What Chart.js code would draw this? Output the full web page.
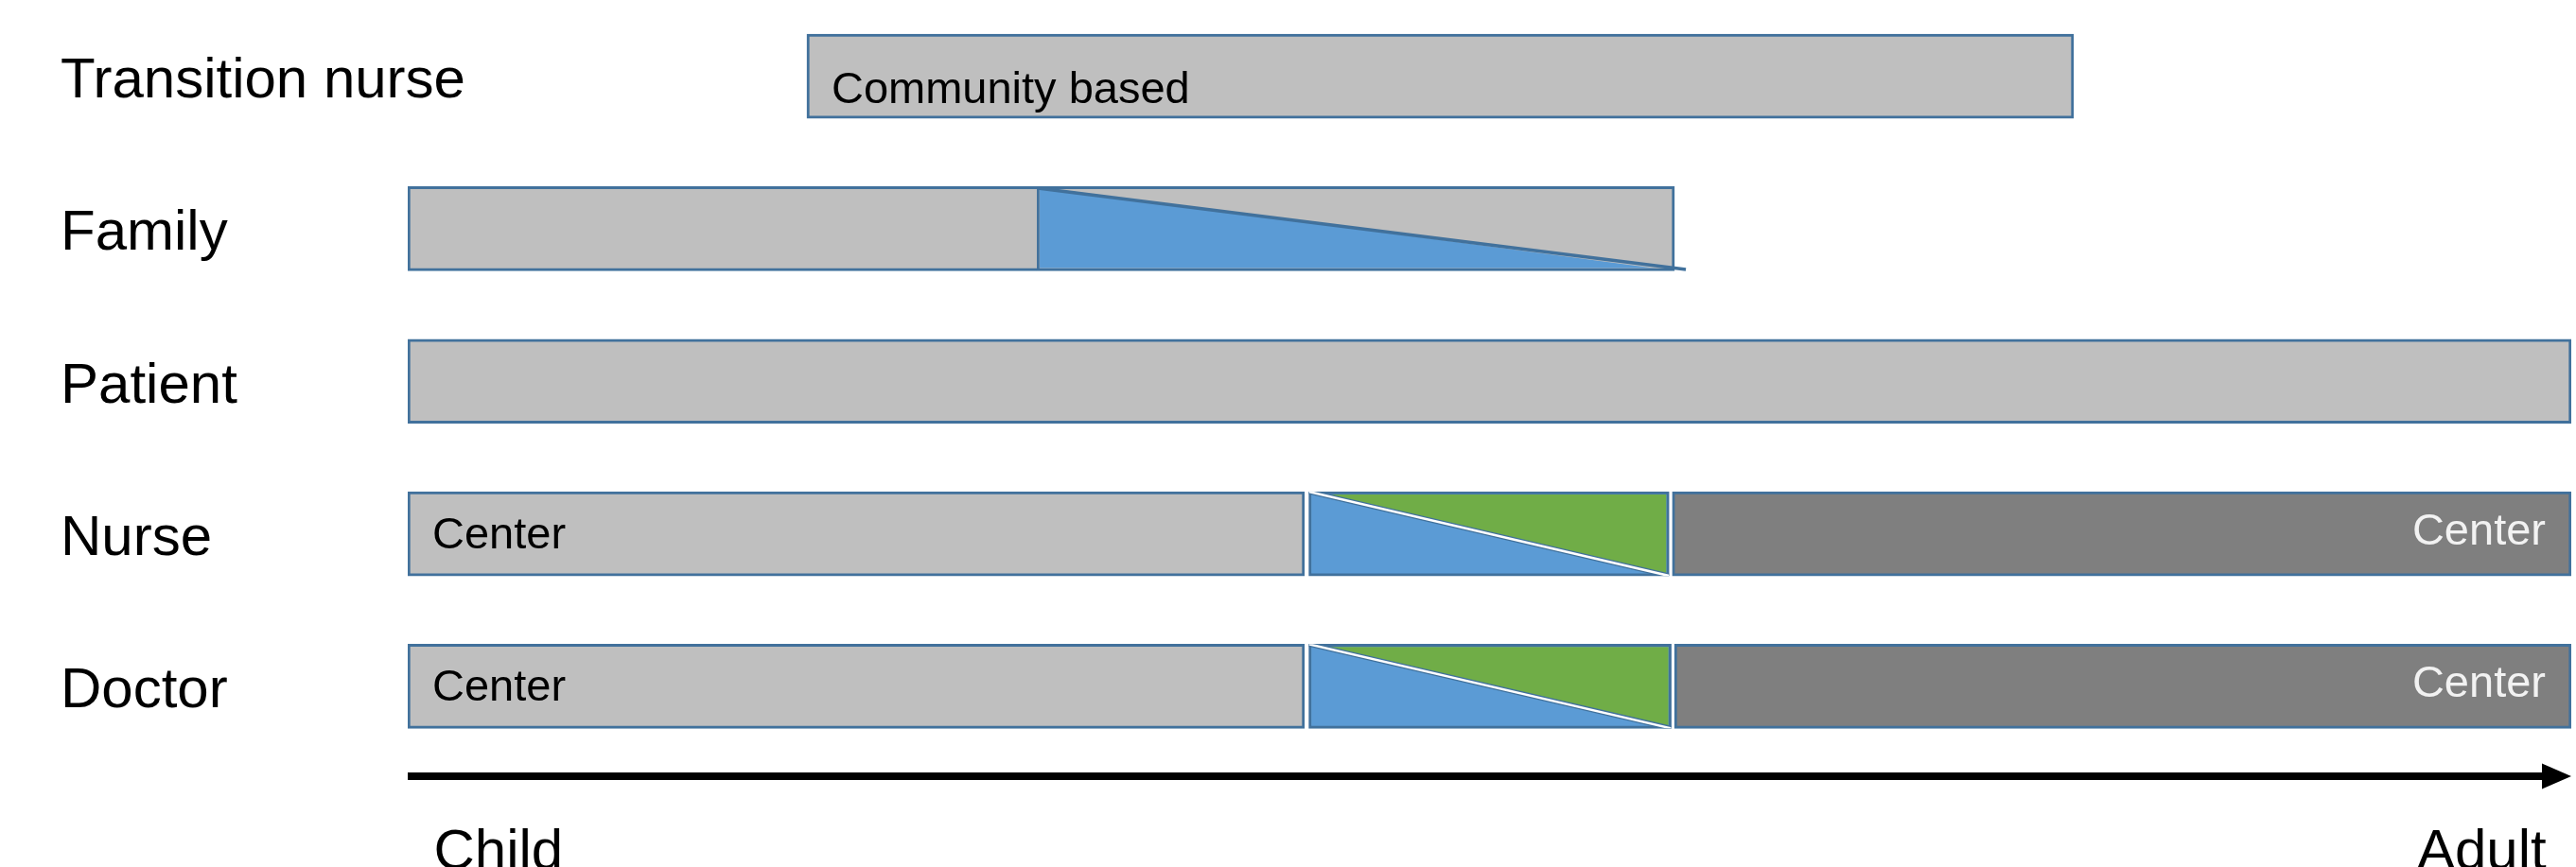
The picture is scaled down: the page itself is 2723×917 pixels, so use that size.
<!DOCTYPE html>
<html>
<head>
<meta charset="utf-8">
<title>Transition of care</title>
<script src="https://cdn.jsdelivr.net/npm/chart.js@4.4.1/dist/chart.umd.min.js"></script>
<style>
  html, body { margin: 0; padding: 0; background: #fff; }
  canvas { display: block; }
</style>
</head>
<body>
<canvas id="chart" width="2723" height="917"></canvas>
<script>
// 行（自上而下）
const roles = ['Transition nurse', 'Family', 'Patient', 'Nurse', 'Doctor'];

// 时间轴：0 = 儿童, 100 = 成人
const childCare = [[18.45, 77.0], [0, 29.08], [0, 100], [0, 41.45], [0, 41.45]];
const handover = [null, [29.08, 58.55], null, [41.65, 58.3], [41.65, 58.4]];
const adultCare = [null, null, null, [58.45, 100], [58.55, 100]];

// 条内文字
const childText = ['Community based', '', '', 'Center', 'Center'];
const adultText = ['', '', '', 'Center', 'Center'];

// 底部轴
const axisTicks = [1.2, 98.85];
const axisLabels = ['Child', 'Adult'];

const FONT = "'Liberation Sans', Arial, sans-serif";
const GREY = '#BFBFBF';
const DARK = '#7F7F7F';
const BLUE = '#5B9BD5';
const GREEN = '#70AD47';
const EDGE = '#41719C';
const BORDER = 3;

Chart.defaults.font.family = FONT;

function barBox(bar) {
    const { x, y, base, height } = bar.getProps(['x', 'y', 'base', 'height'], true);
    return {
        left: Math.min(x, base),
        right: Math.max(x, base),
        top: y - height / 2,
        bottom: y + height / 2,
        y: y
    };
}

// 交接三角形、条内文字和箭头
const overlayPlugin = {
    id: 'overlay',
    afterDatasetsDraw(chart) {
        const ctx = chart.ctx;

        chart.getDatasetMeta(1).data.forEach((bar, i) => {
            if (!handover[i]) return;
            const r = barBox(bar);
            const toAdult = !!adultCare[i];

            ctx.save();
            ctx.beginPath();
            ctx.rect(r.left + BORDER, r.top + BORDER, r.right - r.left - 2 * BORDER, r.bottom - r.top - 2 * BORDER);
            ctx.clip();
            ctx.beginPath();
            if (toAdult) {
                ctx.moveTo(r.left, r.top);
                ctx.lineTo(r.right, r.top);
                ctx.lineTo(r.right, r.bottom);
                ctx.fillStyle = GREEN;
            } else {
                ctx.moveTo(r.left, r.top);
                ctx.lineTo(r.left, r.bottom);
                ctx.lineTo(r.right, r.bottom);
                ctx.fillStyle = BLUE;
            }
            ctx.closePath();
            ctx.fill();
            ctx.restore();

            ctx.save();
            ctx.lineCap = 'butt';
            if (toAdult) {
                ctx.beginPath();
                ctx.rect(r.left, r.top, r.right - r.left, r.bottom - r.top);
                ctx.clip();
                ctx.beginPath();
                ctx.moveTo(r.left, r.top);
                ctx.lineTo(r.right, r.bottom);
                ctx.strokeStyle = EDGE;
                ctx.lineWidth = 5;
                ctx.stroke();
                ctx.strokeStyle = '#FFFFFF';
                ctx.lineWidth = 2.5;
                ctx.stroke();
            } else {
                ctx.beginPath();
                ctx.moveTo(r.left + 1, r.top + 1.5);
                ctx.lineTo(r.right + 12, r.bottom - 1.5);
                ctx.strokeStyle = EDGE;
                ctx.lineWidth = 3.5;
                ctx.stroke();
            }
            ctx.restore();
        });

        ctx.save();
        ctx.font = '47px ' + FONT;
        ctx.textBaseline = 'alphabetic';
        chart.getDatasetMeta(0).data.forEach((bar, i) => {
            if (!childText[i]) return;
            const r = barBox(bar);
            ctx.fillStyle = '#000000';
            ctx.textAlign = 'left';
            ctx.fillText(childText[i], r.left + 26, r.y + (i === 0 ? 28 : 15));
        });
        chart.getDatasetMeta(2).data.forEach((bar, i) => {
            if (!adultText[i]) return;
            const r = barBox(bar);
            ctx.fillStyle = '#F2F2F2';
            ctx.textAlign = 'right';
            ctx.fillText(adultText[i], r.right - 27, r.y + 11);
        });
        ctx.restore();
    },
    afterDraw(chart) {
        const ctx = chart.ctx;
        const area = chart.chartArea;
        const y = chart.scales.x.top + 14.5;
        ctx.save();
        ctx.fillStyle = '#000000';
        ctx.fillRect(area.left, y - 4, area.right - area.left - 28, 8);
        ctx.beginPath();
        ctx.moveTo(area.right, y);
        ctx.lineTo(area.right - 31, y - 13.5);
        ctx.lineTo(area.right - 31, y + 13.5);
        ctx.closePath();
        ctx.fill();
        ctx.restore();
    }
};

const common = {
    borderColor: EDGE,
    borderWidth: BORDER,
    borderSkipped: false,
    grouped: false,
    barThickness: 89
};

new Chart(document.getElementById('chart'), {
    type: 'bar',
    data: {
        labels: roles,
        datasets: [
            {
                ...common,
                label: 'Child care',
                data: childCare,
                backgroundColor: GREY,
                // 与交接段相连时去掉右边框
                borderSkipped: c => (handover[c.dataIndex] && handover[c.dataIndex][0] === childCare[c.dataIndex][1]) ? 'right' : false
            },
            {
                ...common,
                label: 'Handover',
                data: handover,
                backgroundColor: c => adultCare[c.dataIndex] ? BLUE : GREY
            },
            {
                ...common,
                label: 'Adult care',
                data: adultCare,
                backgroundColor: DARK
            }
        ]
    },
    options: {
        indexAxis: 'y',
        responsive: false,
        animation: false,
        layout: { padding: { left: 64, right: 5, top: 0, bottom: 0 } },
        plugins: {
            legend: { display: false },
            tooltip: { enabled: false }
        },
        scales: {
            x: {
                type: 'linear',
                min: 0,
                max: 100,
                grid: { display: false, drawTicks: false },
                border: { display: false },
                afterBuildTicks: s => { s.ticks = axisTicks.map(v => ({ value: v })); },
                ticks: {
                    align: 'inner',
                    padding: 60,
                    autoSkip: false,
                    maxRotation: 0,
                    color: '#000000',
                    font: { family: FONT, size: 60 },
                    callback: (v, i) => axisLabels[i]
                },
                afterFit: s => { s.height = 110.5; s.paddingLeft = 0; s.paddingRight = 0; }
            },
            y: {
                type: 'category',
                offset: true,
                grid: { display: false, drawTicks: false },
                border: { display: false },
                ticks: {
                    crossAlign: 'far',
                    padding: 0,
                    labelOffset: 6,
                    color: '#000000',
                    font: { family: FONT, size: 60 }
                },
                afterFit: s => {
                    s.width = 367;
                    s.paddingTop = 0;
                    s.paddingBottom = 0;
                    // 长标签可伸入绘图区，不做裁剪
                    s._computeLabelArea = () => null;
                }
            }
        }
    },
    plugins: [overlayPlugin]
});
</script>
</body>
</html>
